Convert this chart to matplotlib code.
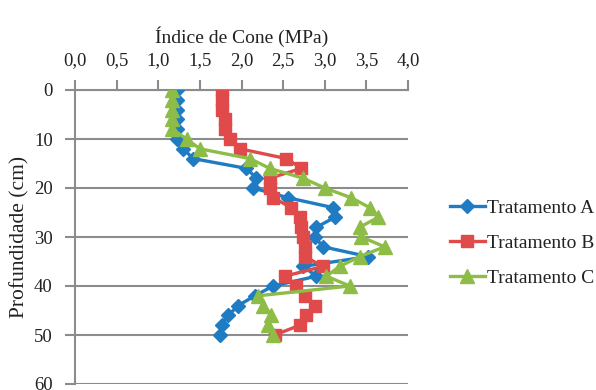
import numpy as np
import matplotlib
matplotlib.use('Agg')
import matplotlib.pyplot as plt
from matplotlib.ticker import FuncFormatter

plt.rcParams['font.family'] = ['Liberation Serif', 'DejaVu Serif']

depth = list(range(0, 52, 2))
trat_a = [1.22, 1.22, 1.22, 1.22, 1.22, 1.22, 1.30, 1.42, 2.06, 2.18, 2.14, 2.56, 3.10,
          3.12, 2.90, 2.88, 2.98, 3.52, 2.74, 2.90, 2.38, 2.16, 1.96, 1.84, 1.76, 1.74]
trat_b = [1.76, 1.76, 1.76, 1.80, 1.80, 1.86, 1.98, 2.54, 2.72, 2.34, 2.34, 2.38, 2.60,
          2.70, 2.72, 2.74, 2.76, 2.76, 2.98, 2.52, 2.66, 2.76, 2.88, 2.78, 2.70, 2.40]
trat_c = [1.17, 1.17, 1.17, 1.17, 1.17, 1.34, 1.50, 2.10, 2.34, 2.74, 3.00, 3.32, 3.54,
          3.64, 3.42, 3.44, 3.72, 3.42, 3.18, 3.02, 3.30, 2.20, 2.26, 2.36, 2.32, 2.38]
names = ['Tratamento A', 'Tratamento B', 'Tratamento C']

fig = plt.figure(figsize=(5.96, 3.9), dpi=100)
ax = fig.add_axes([75 / 596, 6 / 390, 333 / 596, 294 / 390])

grey = '#8c8c8c'
ax.plot(trat_a, depth, color='#1f7bc2', lw=2.4, marker='D', ms=7, label=names[0], zorder=3)
ax.plot(trat_b, depth, color='#e04a4a', lw=2.4, marker='s', ms=8.5, label=names[1], zorder=3)
ax.plot(trat_c, depth, color='#8dbd47', lw=2.4, marker='^', ms=9.5, label=names[2], zorder=3)

ax.set_xlim(0, 4)
ax.set_ylim(60, 0)
ax.set_xticks(np.arange(0, 4.01, 0.5))
ax.set_yticks(range(0, 61, 10))
ax.xaxis.set_major_formatter(FuncFormatter(lambda v, p: f'{v:.1f}'.replace('.', ',')))
ax.xaxis.tick_top()
ax.xaxis.set_label_position('top')
ax.tick_params(axis='both', colors=grey, labelcolor='#222222', labelsize=13.5, width=1.5,
               length=7, direction='out')
ax.tick_params(axis='x', pad=8)
ax.tick_params(axis='y', pad=9)
ax.set_xlabel('Índice de Cone (MPa)', fontsize=14, color='#222222', labelpad=7)
ax.set_ylabel('Profundidade (cm)', fontsize=15.5, color='#222222', labelpad=3)
ax.yaxis.grid(True, color=grey, lw=1.5)
ax.set_axisbelow(True)
for s in ['right', 'bottom']:
    ax.spines[s].set_visible(False)
for s in ['left', 'top']:
    ax.spines[s].set_color(grey)
    ax.spines[s].set_linewidth(1.5)

leg = ax.legend(loc='center left', bbox_to_anchor=(1.09, 0.48), frameon=False, fontsize=14,
                handlelength=1.8, handletextpad=0.1, labelspacing=0.9, borderaxespad=0.2)
for t in leg.get_texts():
    t.set_color('#222222')

fig.savefig('out.png', dpi=100)
